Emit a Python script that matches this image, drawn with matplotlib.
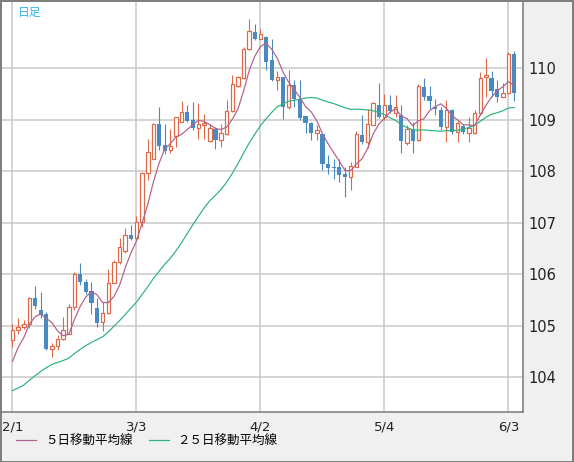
import matplotlib
matplotlib.use("Agg")
import matplotlib.pyplot as plt
from matplotlib.lines import Line2D
from matplotlib.patches import Rectangle
import numpy as np
import pandas as pd

# daily candles, 2/1 .. 6/4
opens = [
    104.72, 104.93, 104.99, 105.03, 105.55, 105.31, 105.24, 104.56, 104.61, 104.74,
    104.85, 105.36, 106.01, 105.86, 105.68, 105.35, 105.07, 105.26, 105.84, 106.25,
    106.46, 106.76, 106.70, 107.01, 107.98, 108.25, 108.93, 108.51, 108.41, 108.69,
    108.97, 109.15, 109.00, 108.85, 108.90, 108.59, 108.83, 108.61, 108.72, 109.17,
    109.66, 109.81, 110.37, 110.70, 110.58, 110.61, 110.16, 109.77, 109.83, 109.25,
    109.68, 109.40, 109.07, 108.94, 108.74, 108.72, 108.14, 108.08, 108.08, 107.95,
    107.90, 108.09, 108.70, 108.57, 108.91, 109.29, 109.06, 109.29, 109.13, 109.09,
    108.56, 108.83, 108.61, 109.64, 109.47, 109.25, 109.20, 108.87, 109.19, 108.76,
    108.89, 108.75, 108.75, 109.13, 109.84, 109.81, 109.61, 109.45, 109.53, 110.29]
highs = [
    105.03, 105.16, 105.11, 105.56, 105.77, 105.66, 105.27, 104.67, 104.82, 105.18,
    105.42, 106.04, 106.22, 105.92, 105.86, 105.54, 105.46, 106.10, 106.28, 106.70,
    106.91, 106.96, 107.14, 107.99, 108.64, 108.95, 109.25, 108.93, 108.82, 109.06,
    109.37, 109.30, 109.34, 109.32, 109.11, 108.93, 108.87, 108.93, 109.38, 109.87,
    109.86, 110.41, 110.97, 110.86, 110.76, 110.63, 110.57, 109.95, 109.84, 109.97,
    109.77, 109.77, 109.08, 108.96, 108.90, 108.74, 108.32, 108.25, 108.24, 108.09,
    108.19, 108.79, 109.09, 109.22, 109.34, 109.71, 109.51, 109.48, 109.48, 109.30,
    108.90, 108.96, 109.69, 109.81, 109.66, 109.40, 109.25, 109.38, 109.21, 108.98,
    108.93, 109.05, 109.19, 109.93, 110.21, 109.95, 109.77, 109.71, 110.32, 110.34]
lows = [
    104.59, 104.84, 104.95, 104.96, 105.33, 105.15, 104.53, 104.40, 104.53, 104.72,
    104.84, 105.31, 105.79, 105.63, 105.24, 104.98, 104.90, 105.24, 105.83, 106.21,
    106.41, 106.67, 106.67, 106.92, 107.83, 108.24, 108.41, 108.33, 108.35, 108.48,
    108.96, 108.96, 108.80, 108.64, 108.63, 108.57, 108.43, 108.48, 108.70, 109.16,
    109.64, 109.79, 110.36, 110.55, 110.57, 109.97, 109.76, 109.58, 109.01, 109.21,
    109.25, 109.00, 108.75, 108.61, 108.61, 108.03, 107.96, 107.86, 107.80, 107.50,
    107.64, 108.08, 108.54, 108.45, 108.90, 109.03, 109.00, 109.13, 109.06, 108.35,
    108.51, 108.35, 108.59, 109.38, 109.22, 109.09, 108.80, 108.57, 108.72, 108.57,
    108.72, 108.57, 108.73, 109.09, 109.45, 109.45, 109.35, 109.44, 109.51, 109.37]
closes = [
    104.93, 104.99, 105.03, 105.55, 105.39, 105.21, 104.56, 104.61, 104.74, 104.93,
    105.36, 106.01, 105.85, 105.66, 105.45, 105.06, 105.26, 105.84, 106.25, 106.54,
    106.76, 106.69, 107.01, 107.98, 108.37, 108.93, 108.50, 108.39, 108.50, 109.05,
    109.15, 108.98, 108.85, 108.93, 108.94, 108.85, 108.61, 108.74, 109.17, 109.70,
    109.83, 110.37, 110.72, 110.57, 110.66, 110.13, 109.78, 109.83, 109.25, 109.67,
    109.40, 109.04, 108.94, 108.74, 108.80, 108.14, 108.07, 108.06, 107.93, 107.90,
    108.10, 108.72, 108.57, 108.93, 109.32, 109.05, 109.30, 109.17, 109.25, 108.59,
    108.83, 108.59, 109.66, 109.45, 109.37, 109.22, 108.87, 109.20, 108.76, 108.95,
    108.76, 108.84, 109.13, 109.81, 109.87, 109.57, 109.45, 109.53, 110.29, 109.53]

# closes before 2/1, only needed so the moving averages start at the left edge
prior_closes = [103.80, 103.55, 103.21, 103.24,
                103.13, 102.71, 103.03, 103.81, 103.94, 104.25, 103.75, 103.87,
                103.83, 103.86, 103.69, 103.86, 103.54, 103.51, 103.78, 103.76,
                103.62, 104.08, 104.24, 104.68]

date_ticks = [0, 22, 44, 66, 88]
date_labels = ["2/1", "3/3", "4/2", "5/4", "6/3"]
price_ticks = [104, 105, 106, 107, 108, 109, 110]

UP = "#dc6a48"
DOWN = "#4a8ac2"
MA5_COL = "#b3608c"
MA25_COL = "#2db47a"
GRID = "#c8c8c8"
FRAME = "#7f7f7f"
PX = 0.72  # one pixel in points at dpi 100

W, H = 574, 462
fig = plt.figure(figsize=(W / 100, H / 100), dpi=100, facecolor="#f0f0f0")
ax = fig.add_axes([1 / W, (H - 412) / H, 522 / W, 411 / H])
ax.set_facecolor("white")

o = np.array(opens)
h = np.array(highs)
l = np.array(lows)
c = np.array(closes)
x = np.arange(len(c))

allc = pd.Series(prior_closes + closes)
n0 = len(prior_closes)
ma5 = allc.rolling(5).mean().to_numpy()[n0:]
ma25 = allc.rolling(25).mean().to_numpy()[n0:]

# grid
for t in date_ticks:
    ax.axvline(t, color=GRID, lw=1.5 * PX, zorder=0)
for p in price_ticks:
    ax.axhline(p, color=GRID, lw=1.5 * PX, zorder=0)

up = c >= o
dn = ~up
ax.vlines(x[up], l[up], h[up], color=UP, lw=1.1 * PX, zorder=2)
ax.vlines(x[dn], l[dn], h[dn], color=DOWN, lw=1.1 * PX, zorder=2)
ax.bar(x[up], (c - o)[up], bottom=o[up], width=0.62, facecolor="white",
       edgecolor=UP, linewidth=1.2 * PX, zorder=3)
ax.bar(x[dn], (o - c)[dn], bottom=c[dn], width=0.75, color=DOWN,
       linewidth=0, zorder=3)

ax.plot(x, ma25, color=MA25_COL, lw=1.2 * PX, zorder=4)
ax.plot(x, ma5, color=MA5_COL, lw=1.2 * PX, zorder=4)

ax.set_xlim(-2.04, 90.58)
ax.set_ylim(103.33, 111.31)

ax.set_xticks(date_ticks)
ax.set_xticklabels(date_labels)
ax.set_yticks(price_ticks)
ax.yaxis.tick_right()
ax.tick_params(axis="both", length=0, labelsize=9.5, colors="#222222")
ax.tick_params(axis="y", pad=4, labelsize=10.5)
ax.tick_params(axis="x", pad=6)
for lab in ax.get_yticklabels():
    lab.set_horizontalalignment("left")

for side in ["left", "top"]:
    ax.spines[side].set_visible(False)
for side in ["right", "bottom"]:
    ax.spines[side].set_color(FRAME)
    ax.spines[side].set_linewidth(1.6 * PX)

ax.text(17 / 522, 1 - 11 / 411, "日足", transform=ax.transAxes,
        family=["Noto Sans CJK JP", "DejaVu Sans"], fontsize=8.5,
        color="#33b4e6", va="center", ha="left")

handles = [Line2D([], [], color=MA5_COL, lw=1.2 * PX),
           Line2D([], [], color=MA25_COL, lw=1.2 * PX)]
fig.legend(handles, ["５日移動平均線", "２５日移動平均線"], ncol=2,
           loc="center left", bbox_to_anchor=(5 / W, 1 - 441 / H),
           frameon=False, handlelength=1.6, handletextpad=0.7,
           columnspacing=1.3, prop={"family": ["Noto Sans CJK JP", "DejaVu Sans"],
                                   "size": 9})

# outer frame of the picture
fig.patches.append(Rectangle((0.5 / W, 0.5 / H), (W - 1.5) / W, (H - 1.5) / H,
                             transform=fig.transFigure, fill=False,
                             edgecolor=FRAME, lw=2 * PX))

fig.savefig("out.png", dpi=100, facecolor=fig.get_facecolor())
